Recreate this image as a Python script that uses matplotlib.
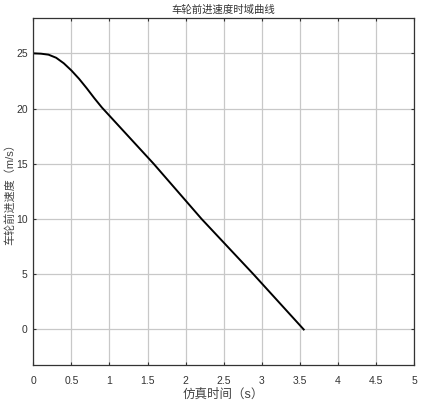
import matplotlib.pyplot as plt

plt.rcParams['font.family'] = ['Liberation Sans', 'Noto Sans CJK SC', 'DejaVu Sans']

# 读图得到的数据点
t = [0, 0.1, 0.2, 0.3, 0.4, 0.5, 0.6, 0.7, 0.8, 0.9, 1.0, 1.58, 2.21, 2.89, 3.55]
v = [25, 24.97, 24.88, 24.6, 24.1, 23.45, 22.7, 21.85, 20.95, 20.1, 19.35, 15.0, 10.0, 5.0, 0]

xticks = [0, 0.5, 1, 1.5, 2, 2.5, 3, 3.5, 4, 4.5, 5]
xtick_labels = ['0', '0.5', '1', '1.5', '2', '2.5', '3', '3.5', '4', '4.5', '5']
yticks = [0, 5, 10, 15, 20, 25]

fig = plt.figure(figsize=(4.27, 4.09), dpi=100)
ax = fig.add_axes([0.078, 0.108, 0.892, 0.848])

ax.plot(t, v, color='black', lw=1.4)

ax.set_xlim(0, 5)
ax.set_ylim(-3.2, 28.2)
ax.set_xticks(xticks)
ax.set_xticklabels(xtick_labels)
ax.set_yticks(yticks)
ax.grid(True, color='#c8c8c8', lw=0.9)
ax.set_axisbelow(True)
ax.tick_params(direction='in', length=2, labelsize=7.5, colors='#333333',
               top=True, right=True)
ax.tick_params(axis='x', pad=8)
ax.tick_params(axis='y', pad=4)
for s in ax.spines.values():
    s.set_color('#333333')
    s.set_linewidth(0.9)

ax.set_title('车轮前进速度时域曲线', fontsize=7.5, color='#333333', pad=4)
ax.set_xlabel('仿真时间（s）', fontsize=9, color='#444444', labelpad=2)
ax.set_ylabel('车轮前进速度（m/s）', fontsize=8, color='#444444', labelpad=1)

fig.savefig('out.png', dpi=100)
